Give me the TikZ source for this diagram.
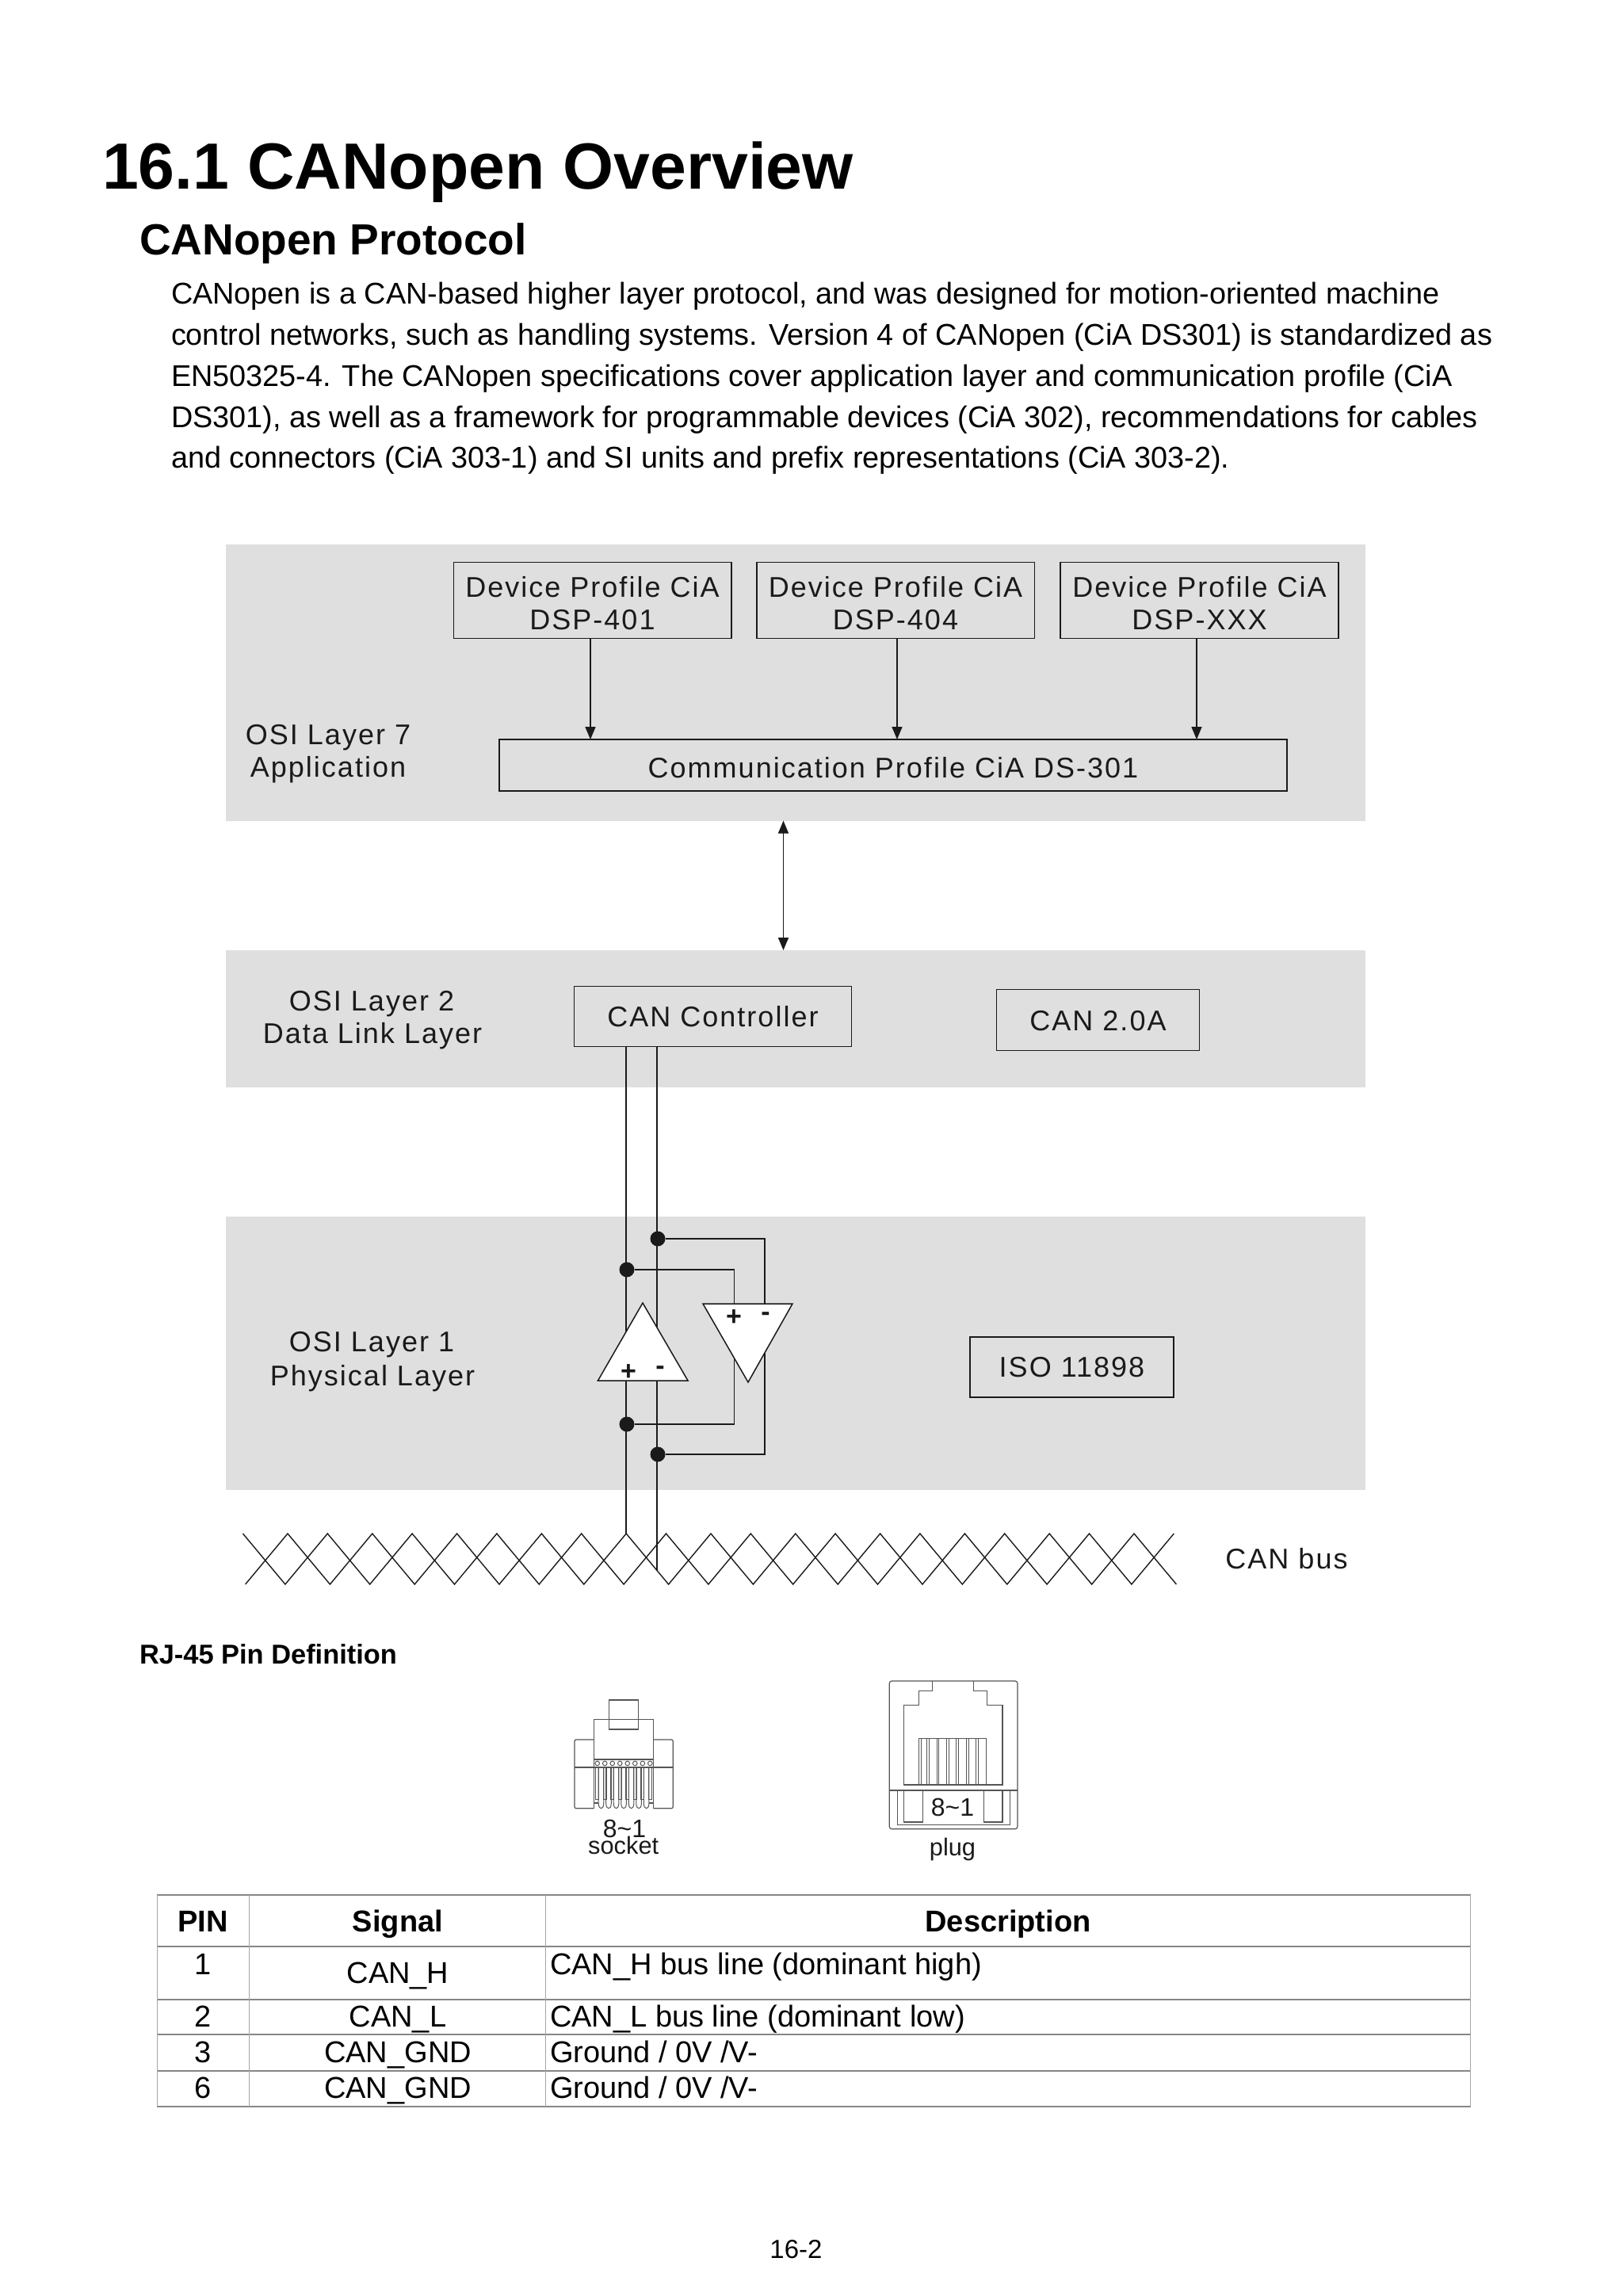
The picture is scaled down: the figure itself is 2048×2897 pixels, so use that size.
\documentclass[tikz,border=0pt]{standalone}
\usepackage{fontspec}
\setmainfont{Liberation Sans}
\newfontfamily\dia[LetterSpace=5.6]{Liberation Sans}
\usetikzlibrary{arrows.meta,calc}
\definecolor{ink}{HTML}{1A1A1A}
\definecolor{layerg}{HTML}{E0DFDF}
\definecolor{rjline}{HTML}{555555}
\newcommand{\lowerby}[1]{\rule{0pt}{#1}}
\tikzset{
  txt/.style={inner sep=0pt,outer sep=0pt,anchor=base},
  lft/.style={inner sep=0pt,outer sep=0pt,anchor=base west},
  title/.style={lft,font=\fontsize{41.2}{48}\selectfont\bfseries},
  subtitle/.style={lft,font=\fontsize{27.5}{32}\selectfont\bfseries},
  body/.style={lft,font=\fontsize{18.92}{26}\selectfont},
  tbl/.style={txt,font=\fontsize{19}{22}\selectfont},
  tbll/.style={lft,font=\fontsize{19}{22}\selectfont},
  tblb/.style={txt,font=\fontsize{19}{22}\selectfont\bfseries},
  dtxt/.style={text=ink,font=\fontsize{18}{20.5}\selectfont\dia},
  dlabel/.style={dtxt,txt,align=center},
  box/.style={draw=ink,line width=0.75pt,inner sep=0pt,outer sep=0pt,dtxt,align=center},
  layer/.style={fill=layerg,draw=none,inner sep=0pt,outer sep=0pt},
  wire/.style={draw=ink,line width=0.8pt},
  arr/.style={wire,-{Triangle[length=8pt,width=6.5pt]}},
  darr/.style={wire,{Triangle[length=8pt,width=6.5pt]}-{Triangle[length=8pt,width=6.5pt]}},
  dotn/.style={circle,fill=ink,draw=none,minimum size=9.5pt,inner sep=0pt,outer sep=0pt},
  amp/.style={draw=ink,fill=white,line width=0.75pt,line join=miter},
  sign/.style={txt,text=ink,font=\fontsize{17}{20}\selectfont\bfseries},
  rj/.style={draw=rjline,line width=0.6pt},
  rjt/.style={txt,text=ink,font=\fontsize{15.4}{18}\selectfont},
  rjn/.style={txt,text=ink,font=\fontsize{16}{18}\selectfont},
  hline/.style={draw=gray!95,line width=1pt},
  vline/.style={draw=gray!70,line width=0.5pt},
}
\begin{document}
\begin{tikzpicture}[x=0.5pt,y=-0.5pt]
\useasboundingbox (0,0) rectangle (2048,2897);
% headings
\node[title] (h1) at (129,238.5) {16.1 CANopen Overview};
\node[subtitle] (h2) at (176,321) {CANopen Protocol};
\node[body] (b1) at (216,383.5) {CANopen is a CAN-based higher layer protocol, and was designed for motion-oriented machine};
\node[body] (b2) at (216,435.5) {control networks, such as handling systems. Version 4 of CANopen (CiA DS301) is standardized as};
\node[body] (b3) at (216,487.5) {EN50325-4. The CANopen specifications cover application layer and communication profile (CiA};
\node[body] (b4) at (216,539) {DS301), as well as a framework for programmable devices (CiA 302), recommendations for cables};
\node[body] (b5) at (216,590.5) {and connectors (CiA 303-1) and SI units and prefix representations (CiA 303-2).};
% layers
\node[layer,minimum width=719pt,minimum height=174.5pt] (l7) at (1004,861) {};
\node[layer,minimum width=719pt,minimum height=86.5pt] (l2) at (1004,1285.5) {};
\node[layer,minimum width=719pt,minimum height=172.5pt] (l1) at (1004,1707.5) {};
% layer 7
\node[box,minimum width=175.25pt,minimum height=48pt] (dev1) at (747.5,757.5) {\lowerby{16.8pt}Device Profile CiA\\DSP-401};
\node[box,minimum width=175.25pt,minimum height=48pt] (dev2) at (1130,757.5) {\lowerby{16.8pt}Device Profile CiA\\DSP-404};
\node[box,minimum width=175.5pt,minimum height=48pt] (dev3) at (1513.5,757.5) {\lowerby{16.8pt}Device Profile CiA\\DSP-XXX};
\node[box,minimum width=497pt,minimum height=32.5pt] (comm) at (1127,965.5) {\lowerby{15.9pt}Communication Profile CiA DS-301};
\coordinate (xa) at (745,0);
\coordinate (xb) at (1132,0);
\coordinate (xc) at (1510,0);
\coordinate (xd) at (988.5,0);
\draw[arr] (dev1.south -| xa) -- (comm.north -| xa);
\draw[arr] (dev2.south -| xb) -- (comm.north -| xb);
\draw[arr] (dev3.south -| xc) -- (comm.north -| xc);
\draw[darr] (l7.south -| xd) -- (l2.north -| xd);
\node[dlabel] (osi7) at (414,939) {OSI Layer 7};
\node[dlabel] (app) at (414,980) {Application};
% layer 2
\node[dlabel] (osi2) at (469,1275) {OSI Layer 2};
\node[dlabel] (dll) at (470,1316) {Data Link Layer};
\node[box,minimum width=175pt,minimum height=38pt] (ctrl) at (899.5,1282.5) {\lowerby{13.2pt}CAN Controller};
\node[box,minimum width=128pt,minimum height=38.5pt] (can2) at (1385.5,1287) {\lowerby{13.2pt}CAN 2.0A};
% layer 1
\node[dlabel] (osi1) at (469,1705) {OSI Layer 1};
\node[dlabel] (phy) at (470,1748) {Physical Layer};
\node[box,minimum width=128.5pt,minimum height=38pt] (iso) at (1352.5,1725) {ISO 11898};
% junctions
\node[dotn] (j1) at (830,1563) {};
\node[dotn] (j2) at (791,1602) {};
\node[dotn] (j3) at (791,1797) {};
\node[dotn] (j4) at (830,1835) {};
\coordinate (busA) at (790,1935);
\coordinate (busB) at (829,1982);
\draw[wire] (ctrl.south -| busA) -- (busA);
\draw[wire] (ctrl.south -| busB) -- (busB);
\coordinate (xp) at (926.5,0);
\coordinate (xm) at (965,0);
\draw[wire] (j1) -- (j1 -| xm) -- (j4 -| xm) -- (j4);
\draw[wire] (j2) -- (j2 -| xp) -- (j3 -| xp) -- (j3);
% amplifiers
\draw[amp] (811,1644) -- (868,1742) -- (754.5,1742) -- cycle;
\draw[amp] (887,1645) -- (1000,1645) -- (944,1744) -- cycle;
\node[sign] (p1) at (793,1741) {+};
\node[sign] (m1) at (833,1734) {-};
\node[sign] (p2) at (926,1672.5) {+};
\node[sign] (m2) at (966,1666) {-};
% bus
\draw[wire,line width=0.7pt] plot[samples at={0,...,22}] ({306.5+53.4*\x},{1935+64*mod(\x,2)});
\draw[wire,line width=0.7pt] plot[samples at={0,...,22}] ({309.6+53.4*\x},{1999-64*mod(\x,2)});
\node[dlabel] (canbus) at (1623.5,1979) {CAN bus};
% RJ-45
\node[lft,font=\fontsize{17.2}{20}\selectfont\bfseries] (rjh) at (176,2099.5) {RJ-45 Pin Definition};
% socket
\draw[rj] (768.3,2145) rectangle (805.7,2182);
\draw[rj] (749.3,2281.7) -- (749.3,2169.3) -- (824.7,2169.3) -- (824.7,2281.7);
\draw[rj,rounded corners=1pt] (749.3,2195) -- (725,2195) -- (725,2281.7) -- (749.3,2281.7);
\draw[rj,rounded corners=1pt] (824.7,2195) -- (849.3,2195) -- (849.3,2281.7) -- (824.7,2281.7);
\draw[rj] (725,2230) -- (849.3,2230);
\draw[rj] (749.3,2220) -- (824.7,2220);
\draw[rj] (749.3,2275) -- (755,2275);
\draw[rj] (824.7,2275) -- (819,2275);
\foreach \i in {0,...,7}{
  \draw[rj,line width=0.5pt] ({753.7+9.52*\i},2224.9) circle (2.8);
  \draw[rj,line width=0.5pt] ({751.7+9.52*\i},2230) -- ({751.7+9.52*\i},2270) -- ({755.7+9.52*\i},2270) -- ({755.7+9.52*\i},2230);
}
\foreach \i in {0,...,6}{
  \draw[rj,line width=0.5pt] ({755.2+9.52*\i},2230) -- ({755.2+9.52*\i},2275) .. controls ({755.2+9.52*\i},2280) and ({757+9.52*\i},2281.7) .. ({758.5+9.52*\i},2281.7) .. controls ({760+9.52*\i},2281.7) and ({761.8+9.52*\i},2280) .. ({761.8+9.52*\i},2275) -- ({761.8+9.52*\i},2230);
}
\node[rjn] (s81) at (788,2318) {8\textasciitilde 1};
\node[rjt] (sock) at (786.7,2339.3) {socket};
% plug
\draw[rj,rounded corners=1.5pt] (1122.3,2121) rectangle (1284,2307.7);
\draw[rj] (1122.3,2259) -- (1284,2259);
\draw[rj] (1176.3,2121) -- (1176.3,2133.3) -- (1159.3,2133.3) -- (1159.3,2151.7) -- (1140.3,2151.7) -- (1140.3,2252) -- (1265,2252) -- (1265,2151.7) -- (1245.7,2151.7) -- (1245.7,2133.3) -- (1228.3,2133.3) -- (1228.3,2121);
\draw[rj] (1159.3,2193.3) rectangle (1244.7,2252);
\foreach \x in {1162.3,1169,1172.3,1182,1184.7,1194.3,1197.3,1206.7,1209.7,1219.7,1222.3,1231.7,1234.7}{
  \draw[rj,line width=0.5pt] (\x,2193.3) -- (\x,2252);
}
\draw[rj] (1132.3,2259) -- (1132.3,2302.3) -- (1274.7,2302.3) -- (1274.7,2259);
\draw[rj] (1140.3,2259) -- (1140.3,2299) -- (1164.7,2299) -- (1164.7,2259);
\draw[rj] (1241.3,2259) -- (1241.3,2299) -- (1265,2299) -- (1265,2259);
\node[rjn] (p81) at (1202,2291.7) {8\textasciitilde 1};
\node[rjt] (plg) at (1202,2341.7) {plug};
% table
\foreach \y in {2390.7,2456,2522.7,2567,2612.7,2658}{
  \draw[hline] (198.4,\y) -- (1855.7,\y);
}
\foreach \x in {198.4,314.5,688.7,1855.7}{
  \draw[vline] (\x,2390.7) -- (\x,2658);
}
\node[tblb] (c1) at (256,2437.5) {PIN};
\node[tblb] (c2) at (502,2437.5) {Signal};
\node[tblb] (c3) at (1272,2437.5) {Description};
\node[tbl] (r1a) at (256,2491.7) {1};
\node[tbl] (r1b) at (502,2502) {CAN\_H};
\node[tbll] (r1c) at (694,2491.7) {CAN\_H bus line (dominant high)};
\node[tbl] (r2a) at (256,2557.7) {2};
\node[tbl] (r2b) at (502,2557.7) {CAN\_L};
\node[tbll] (r2c) at (694,2557.7) {CAN\_L bus line (dominant low)};
\node[tbl] (r3a) at (256,2602.7) {3};
\node[tbl] (r3b) at (502,2602.7) {CAN\_GND};
\node[tbll] (r3c) at (694,2602.7) {Ground / 0V /V-};
\node[tbl] (r4a) at (256,2647.7) {6};
\node[tbl] (r4b) at (502,2647.7) {CAN\_GND};
\node[tbll] (r4c) at (694,2647.7) {Ground / 0V /V-};
% footer
\node[txt,font=\fontsize{16.5}{20}\selectfont] (foot) at (1004.5,2849) {16-2};
\end{tikzpicture}
\end{document}
